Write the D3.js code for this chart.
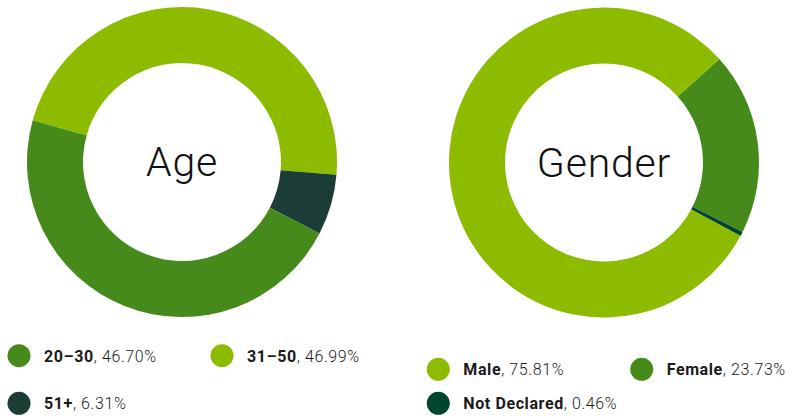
<!DOCTYPE html>
<html>
<head>
<meta charset="utf-8">
<script src="https://cdn.jsdelivr.net/npm/d3@7"></script>
<style>
  body { margin: 0; background: #fff; }
  svg { display: block; font-family: Roboto, "Noto Sans", sans-serif; }
  .legend-text { font-size: 16px; fill: #1a1a1a; letter-spacing: 0.6px; }
  .legend-text .name { font-weight: bold; }
  .legend-text .val { font-weight: 300; }
  .center-label { font-size: 41px; font-weight: 300; fill: #111; letter-spacing: 0.8px; }
</style>
</head>
<body>
<div id="chart"></div>
<script>
// Age data
const ageLabels = ["31–50", "51+", "20–30"];
const ageShares = [46.99, 6.31, 46.70];
const ageLegendOrder = ["20–30", "31–50", "51+"];
const ageLegendText = { "20–30": "46.70%", "31–50": "46.99%", "51+": "6.31%" };

// Gender data (arc shares, legend text as printed)
const genderLabels = ["Female", "Not Declared", "Male"];
const genderShares = [19.03, 0.46, 80.51];
const genderLegendOrder = ["Male", "Female", "Not Declared"];
const genderLegendText = { "Male": "75.81%", "Female": "23.73%", "Not Declared": "0.46%" };

const colors = {
  "20–30": "#458a1a", "31–50": "#8cbb00", "51+": "#1b3d35",
  "Male": "#8cbb00", "Female": "#458a1a", "Not Declared": "#00452f"
};

const W = 792, H = 418;
const svg = d3.select("#chart").append("svg")
  .attr("width", W).attr("height", H);

const arc = d3.arc().innerRadius(99).outerRadius(155);

// draws one donut; startDeg is where the first slice begins (clockwise from top)
function donut(cx, cy, labels, shares, startDeg, title) {
  const pie = d3.pie().sort(null)
    .startAngle(startDeg * Math.PI / 180)
    .endAngle((startDeg + 360) * Math.PI / 180);
  const data = labels.map((l, i) => ({ label: l, value: shares[i] }));
  const g = svg.append("g").attr("transform", `translate(${cx},${cy})`);
  g.selectAll("path")
    .data(pie.value(d => d.value)(data))
    .enter().append("path")
      .attr("d", arc)
      .attr("fill", d => colors[d.data.label]);
  g.append("text")
    .attr("class", "center-label")
    .attr("text-anchor", "middle")
    .attr("y", 14)
    .text(title);
}

donut(182, 162, ageLabels, ageShares, -74.4, "Age");
donut(604, 162.5, genderLabels, genderShares, 48.1, "Gender");

// legend items
function legend(items, positions, texts) {
  items.forEach((name, i) => {
    const p = positions[i];
    const g = svg.append("g").attr("transform", `translate(${p[0]},${p[1]})`);
    g.append("circle").attr("r", 11.5).attr("fill", colors[name]);
    const t = g.append("text").attr("class", "legend-text")
      .attr("x", 25).attr("y", 5.8);
    t.append("tspan").attr("class", "name").text(name);
    t.append("tspan").attr("class", "val").text(", " + texts[name]);
  });
}

legend(ageLegendOrder, [[19, 355.7], [222, 355.7], [19, 403.3]], ageLegendText);
legend(genderLegendOrder, [[438.3, 369.3], [641.7, 369.3], [438.3, 403.3]], genderLegendText);
</script>
</body>
</html>
